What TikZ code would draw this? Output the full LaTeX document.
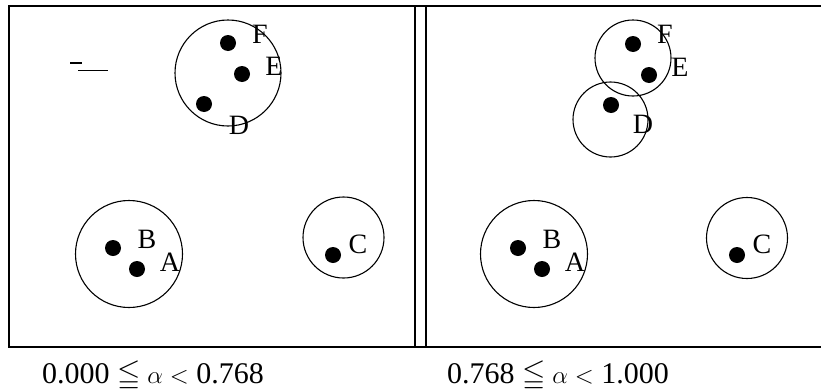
\documentclass[tikz,border=0pt]{standalone}
\usepackage{amssymb}
\usepackage{fontspec}
\setmainfont{Liberation Serif}
\begin{document}
\begin{tikzpicture}[x=1pt,y=-1pt,
  frame/.style={line width=1.6pt},
  ring/.style={draw,circle,line width=1.1pt,inner sep=0pt},
  pt/.style={circle,fill=black,inner sep=0pt,minimum size=16pt},
  lab/.style={inner sep=0pt,font=\fontsize{28}{33}\selectfont},
  captext/.style={inner sep=0pt,anchor=base,font=\fontsize{30}{36}\selectfont}]
\useasboundingbox (0,0) rectangle (821,391);
% frames
\coordinate (tl) at (9,6);
\coordinate (tr) at (821,6);
\coordinate (bl) at (9,347);
\coordinate (br) at (821,347);
\draw[frame] (tr) -- (tl) -- (bl) -- (br);
\coordinate (m1t) at (415,6); \coordinate (m1b) at (415,347);
\coordinate (m2t) at (426,6); \coordinate (m2b) at (426,347);
\draw[frame] (m1t) -- (m1b);
\draw[frame] (m2t) -- (m2b);
% stray marks
\coordinate (s1a) at (70,63); \coordinate (s1b) at (82,63);
\coordinate (s2a) at (78,70); \coordinate (s2b) at (108,70);
\draw[line width=1.2pt] (s1a) -- (s1b);
\draw[line width=0.7pt] (s2a) -- (s2b);
% ---- left panel ----
\node[ring,minimum size=106pt] (L1) at (228,73) {};
\node[ring,minimum size=107pt] (L2) at (129,254) {};
\node[ring,minimum size=81pt] (L3) at (343.5,237.5) {};
\node[pt] (LF) at (228,43) {};
\node[pt] (LE) at (242,74) {};
\node[pt] (LD) at (204,104) {};
\node[pt] (LB) at (113,248) {};
\node[pt] (LA) at (137,269) {};
\node[pt] (LC) at (333,255) {};
\node[lab] (lF) at (260,34) {F};
\node[lab] (lE) at (274,66) {E};
\node[lab] (lD) at (239,125) {D};
\node[lab] (lB) at (147,239) {B};
\node[lab] (lA) at (170,262) {A};
\node[lab] (lC) at (358,244) {C};
% ---- right panel ----
\node[ring,minimum size=76pt] (R1) at (633,58) {};
\node[ring,minimum size=75pt] (R2) at (610.5,119.5) {};
\node[ring,minimum size=107pt] (R3) at (534,254) {};
\node[ring,minimum size=81pt] (R4) at (747,238) {};
\node[pt] (RF) at (633,44) {};
\node[pt] (RE) at (649,75) {};
\node[pt] (RD) at (611,105) {};
\node[pt] (RB) at (518,248) {};
\node[pt] (RA) at (542,269) {};
\node[pt] (RC) at (737,255) {};
\node[lab] (rF) at (665,34) {F};
\node[lab] (rE) at (680,67) {E};
\node[lab] (rD) at (643,124) {D};
\node[lab] (rB) at (552,239) {B};
\node[lab] (rA) at (575,262) {A};
\node[lab] (rC) at (762,244) {C};
% captions
\node[captext] (c1) at (153,383) {0.000 $\leqq\alpha<$ 0.768};
\node[captext] (c2) at (558,383) {0.768 $\leqq\alpha<$ 1.000};
\end{tikzpicture}
\end{document}
